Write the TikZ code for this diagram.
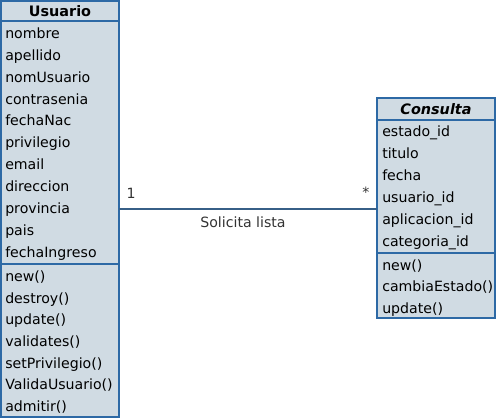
\documentclass[tikz,border=0pt]{standalone}
\usepackage{fontspec}
\setmainfont{DejaVu Sans}
\definecolor{boxfill}{RGB}{208,219,227}
\definecolor{boxline}{RGB}{45,105,165}
\definecolor{linkline}{RGB}{55,95,135}
\begin{document}
\begin{tikzpicture}[x=0.75pt,y=-0.75pt,
  classbox/.style={draw=boxline,fill=boxfill,line width=0.8pt},
  sep/.style={draw=boxline,line width=0.8pt},
  item/.style={anchor=west,inner sep=0pt,text height=8.2pt,text depth=2.4pt,font=\fontsize{10.6pt}{12pt}\selectfont},
  title/.style={anchor=center,inner sep=0pt,text height=8.2pt,text depth=2.4pt,font=\fontsize{10.8pt}{12pt}\selectfont\bfseries},
  lbl/.style={inner sep=0pt,font=\fontsize{10.6pt}{12pt}\selectfont,text=black!80}]
\useasboundingbox (0,0) rectangle (497,418);
% Usuario
\draw[classbox] (1,1) rectangle (119,417);
\coordinate (uE) at (119,209);
\draw[sep] (1,21) -- (119,21);
\draw[sep] (1,264) -- (119,264);
\node[title] (uT) at (60,12.5) {Usuario};
\foreach \t [count=\i] in {nombre,apellido,nomUsuario,contrasenia,fechaNac,privilegio,email,direccion,provincia,pais,fechaIngreso}
  \node[item] (ua\i) at (5,{34.5+(\i-1)*21.9}) {\t};
\foreach \t [count=\i] in {new(),destroy(),update(),validates(),setPrivilegio(),ValidaUsuario(),admitir()}
  \node[item] (um\i) at (5,{277.5+(\i-1)*21.7}) {\t};
% Consulta
\draw[classbox] (377,98) rectangle (495,318);
\coordinate (cW) at (377,209);
\draw[sep] (377,120) -- (495,120);
\draw[sep] (377,253) -- (495,253);
\node[title,font=\fontsize{10.8pt}{12pt}\selectfont\bfseries\itshape] (cT) at (436,110.5) {Consulta};
\foreach \t [count=\i] in {estado\_id,titulo,fecha,usuario\_id,aplicacion\_id,categoria\_id}
  \node[item] (ca\i) at (382,{132.5+(\i-1)*22}) {\t};
\foreach \t [count=\i] in {new(),cambiaEstado(),update()}
  \node[item] (cm\i) at (382,{266.5+(\i-1)*21.5}) {\t};
% association
\draw[draw=linkline,line width=0.8pt] (uE) -- (cW);
\node[lbl] (m1) at (131,193) {1};
\node[lbl] (m2) at (366,192) {*};
\node[lbl] (asc) at (243,222) {Solicita lista};
\end{tikzpicture}
\end{document}
